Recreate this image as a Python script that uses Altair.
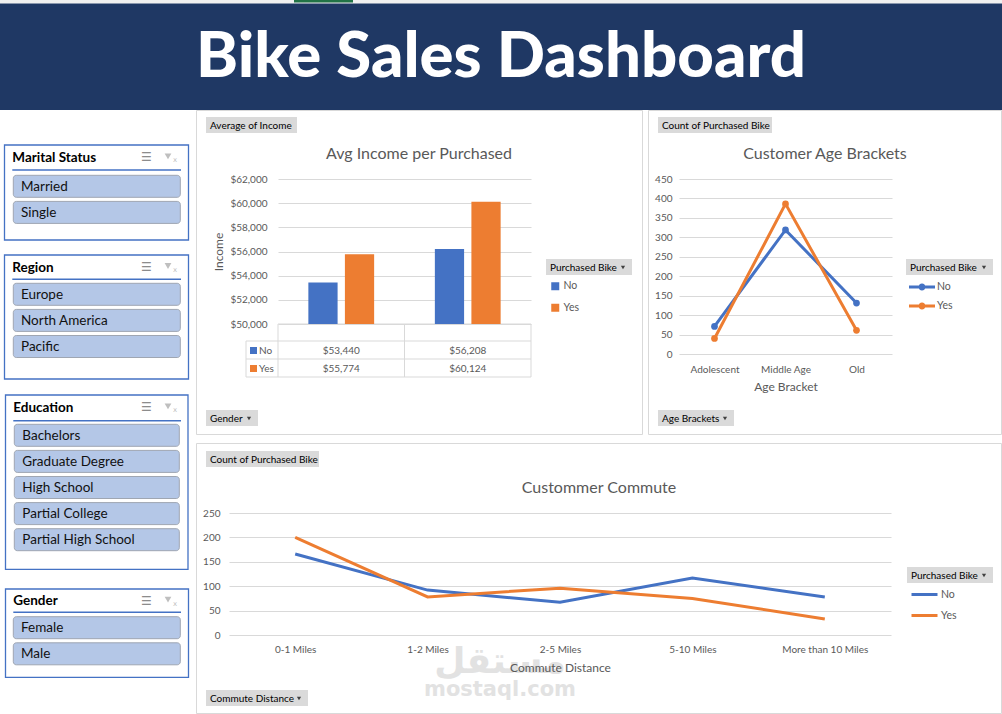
import altair as alt
import pandas as pd

# ---------------- data ----------------
purchased = ["No", "Yes"]
palette = ["#4472C4", "#ED7D31"]

genders = ["Female", "Male"]
income_no = [53440, 56208]
income_yes = [55774, 60124]

age_brackets = ["Adolescent", "Middle Age", "Old"]
age_no = [71, 319, 131]
age_yes = [40, 386, 61]

commute_bins = ["0-1 Miles", "1-2 Miles", "2-5 Miles", "5-10 Miles", "More than 10 Miles"]
commute_no = [166, 92, 67, 117, 78]
commute_yes = [200, 78, 96, 75, 33]

slicer_titles = ["Marital Status", "Region", "Education", "Gender"]
slicer_items = [
    ["Married", "Single"],
    ["Europe", "North America", "Pacific"],
    ["Bachelors", "Graduate Degree", "High School", "Partial College", "Partial High School"],
    ["Female", "Male"],
]


def long_table(cats, no, yes, catname, valname):
    rows = []
    for c, n, y in zip(cats, no, yes):
        rows.append({catname: c, "purchased": "No", valname: n})
        rows.append({catname: c, "purchased": "Yes", valname: y})
    return pd.DataFrame(rows)


income_df = long_table(genders, income_no, income_yes, "gender", "income")
age_df = long_table(age_brackets, age_no, age_yes, "bracket", "count")
commute_df = long_table(commute_bins, commute_no, commute_yes, "distance", "count")

# ---------------- style ----------------
FONT = "Lato"
GRAY = "#595959"
GRID = "#D9D9D9"
OX, OY = 229, 179  # page position of the decoration cell origin


def cscale():
    return alt.Scale(domain=purchased, range=palette)


AX = dict(domain=False, ticks=False, labelFont=FONT, titleFont=FONT, labelColor=GRAY,
          titleColor=GRAY, titleFontWeight="normal", labelFontSize=10, titleFontSize=12)

# ---------------- bar chart ----------------
bar_legend = alt.Legend(orient="none", legendX=272, legendY=102, title=None, symbolType="square",
                        symbolSize=64, symbolStrokeWidth=0, labelFont=FONT, labelFontSize=10.5,
                        labelColor=GRAY, labelOffset=3, rowPadding=10.5, padding=0, direction="vertical")
bars = alt.Chart(income_df).mark_bar().encode(
    x=alt.X("gender:N", sort=genders, scale=alt.Scale(paddingInner=0.48, paddingOuter=0.24),
            axis=alt.Axis(title="Gender", labelAngle=0, labelPadding=3, titlePadding=43, grid=False, **AX)),
    xOffset=alt.XOffset("purchased:N", sort=purchased, scale=alt.Scale(paddingInner=0.2, paddingOuter=0)),
    y=alt.Y("income:Q", scale=alt.Scale(domain=[50000, 62000], zero=False, nice=False),
            axis=alt.Axis(title="Income", values=list(range(50000, 62001, 2000)), format="$,.0f",
                          labelPadding=11, titlePadding=4, grid=True, gridColor=GRID, **AX)),
    y2=alt.datum(50000),
    color=alt.Color("purchased:N", scale=cscale(), legend=bar_legend),
)
tbl_layers = []
for p, yy in zip(purchased, [350.5, 368.5]):
    tbl_layers.append(
        alt.Chart(income_df).transform_filter(alt.datum.purchased == p)
        .mark_text(font=FONT, fontSize=10, color=GRAY, baseline="middle")
        .encode(x=alt.X("gender:N", sort=genders, axis=None), y=alt.value(yy - 179),
                text=alt.Text("income:Q", format="$,.0f"))
    )
bar_chart = alt.layer(bars, *tbl_layers).properties(width=253, height=145)

# ---------------- age chart ----------------
DOT_LINE = ("M-1,-0.115L1,-0.115L1,0.115L-1,0.115Z "
            "M0.27,0A0.27,0.27 0 1,1 -0.27,0A0.27,0.27 0 1,1 0.27,0Z")
age_legend = alt.Legend(orient="none", legendX=230, legendY=95, title=None, symbolType=DOT_LINE,
                        symbolSize=676, symbolStrokeWidth=0, labelFont=FONT, labelFontSize=10.5,
                        labelColor=GRAY, labelOffset=2, rowPadding=-1, padding=0, direction="vertical")
age_x = alt.X("bracket:N", sort=age_brackets, scale=alt.Scale(type="point", padding=0.5),
              axis=alt.Axis(title="Age Bracket", labelAngle=0, labelPadding=10, titlePadding=7, grid=False, **AX))
age_y = alt.Y("count:Q", scale=alt.Scale(domain=[0, 450], nice=False),
              axis=alt.Axis(title=None, values=list(range(0, 451, 50)), labelPadding=7, grid=True,
                            gridColor=GRID, **AX))
age_color = alt.Color("purchased:N", scale=cscale(), legend=age_legend)
age_pts = alt.Chart(age_df).mark_point(filled=True, size=45, opacity=1).encode(x=age_x, y=age_y, color=age_color)
age_lines = alt.Chart(age_df).mark_line(strokeWidth=3).encode(x=age_x, y=age_y, color=age_color)
age_chart = alt.layer(age_pts, age_lines).properties(width=213, height=175)

# ---------------- commute chart ----------------
com_legend = alt.Legend(orient="none", legendX=681, legendY=67, title=None, symbolType="stroke",
                        symbolSize=676, symbolStrokeWidth=3, labelFont=FONT, labelFontSize=10.5,
                        labelColor=GRAY, labelOffset=2, rowPadding=-3, padding=0, direction="vertical")
com_chart = alt.Chart(commute_df).mark_line(strokeWidth=3).encode(
    x=alt.X("distance:N", sort=commute_bins, scale=alt.Scale(type="point", padding=0.5),
            axis=alt.Axis(title="Commute Distance", labelAngle=0, labelPadding=9, titlePadding=8, grid=False, **AX)),
    y=alt.Y("count:Q", scale=alt.Scale(domain=[0, 250], nice=False),
            axis=alt.Axis(title=None, values=list(range(0, 251, 50)), labelPadding=9, grid=True,
                          gridColor=GRID, **AX)),
    color=alt.Color("purchased:N", scale=cscale(), legend=com_legend),
).properties(width=662, height=122)


# ---------------- decorations (dashboard frame) ----------------
def deco_rects(rows, radius=0):
    df = pd.DataFrame(rows, columns=["x", "x2", "y", "y2", "fill", "stroke", "sw"])
    df["x"] -= OX; df["x2"] -= OX; df["y"] -= OY; df["y2"] -= OY
    mk = alt.Chart(df).mark_rect(cornerRadius=radius) if radius else alt.Chart(df).mark_rect()
    return mk.encode(
        x=alt.X("x:Q", scale=None, axis=None), x2="x2:Q",
        y=alt.Y("y:Q", scale=None, axis=None), y2="y2:Q",
        fill=alt.Fill("fill:N", scale=None), stroke=alt.Stroke("stroke:N", scale=None),
        strokeWidth=alt.StrokeWidth("sw:Q", scale=None),
    )


def deco_rules(rows):
    df = pd.DataFrame(rows, columns=["x", "x2", "y", "y2", "color", "sw"])
    df["x"] -= OX; df["x2"] -= OX; df["y"] -= OY; df["y2"] -= OY
    return alt.Chart(df).mark_rule().encode(
        x=alt.X("x:Q", scale=None, axis=None), x2="x2:Q",
        y=alt.Y("y:Q", scale=None, axis=None), y2="y2:Q",
        color=alt.Color("color:N", scale=None), strokeWidth=alt.StrokeWidth("sw:Q", scale=None),
    )


def deco_text(rows, align="left", weight="normal", font=FONT, baseline="middle", opacity=1.0):
    df = pd.DataFrame(rows, columns=["x", "y", "text", "size", "color"])
    df["x"] -= OX; df["y"] -= OY
    return alt.Chart(df).mark_text(align=align, baseline=baseline, fontWeight=weight, font=font,
                                   opacity=opacity).encode(
        x=alt.X("x:Q", scale=None, axis=None), y=alt.Y("y:Q", scale=None, axis=None),
        text="text:N", size=alt.Size("size:Q", scale=None), color=alt.Color("color:N", scale=None),
    )


def deco_points(rows, shape, size, color):
    df = pd.DataFrame(rows, columns=["x", "y"])
    df["x"] -= OX; df["y"] -= OY
    return alt.Chart(df).mark_point(shape=shape, filled=True, size=size, color=color, opacity=1).encode(
        x=alt.X("x:Q", scale=None, axis=None), y=alt.Y("y:Q", scale=None, axis=None))


BLUE_LINE = "#4472C4"
BTN = "#DADADA"

square_rects = [
    (0, 1002, 0, 3.5, "#F0F0F0", "#F0F0F0", 0),
    (294, 353, 0, 2.5, "#217346", "#217346", 0),
    (0, 1002, 3.5, 110, "#1F3864", "#1F3864", 0),
    (196.5, 642.5, 110.5, 434.5, "white", GRID, 1),
    (648.5, 1001.5, 110.5, 434.5, "white", GRID, 1),
    (196.5, 1001.5, 443.5, 713.5, "white", GRID, 1),
]
buttons = [
    (206, 297, 117, 133, "Average of Income", False),
    (206, 258, 410, 426, "Gender", True),
    (546, 632, 259, 275, "Purchased Bike", True),
    (658, 772, 117, 133, "Count of Purchased Bike", False),
    (658, 734, 410, 426, "Age Brackets", True),
    (906, 993, 259, 275, "Purchased Bike", True),
    (206, 319, 451, 467, "Count of Purchased Bike", False),
    (206, 308, 690, 706, "Commute Distance", True),
    (907, 993, 567, 583, "Purchased Bike", True),
]
for b in buttons:
    square_rects.append((b[0], b[1], b[2], b[3], BTN, BTN, 0))
square_rects += [
    (250, 257, 347, 354, palette[0], palette[0], 0),
    (250, 257, 365, 372, palette[1], palette[1], 0),
]

slicer_geo = [
    dict(bx=(4.5, 188.5), by=(145, 240), tx=12.3, ty=157.3, ly=170, ix=(13.3, 180.3), iy0=175.3, itx=21),
    dict(bx=(4.5, 188.5), by=(255, 379), tx=12.3, ty=267, ly=279.3, ix=(13.3, 180.3), iy0=283.3, itx=21),
    dict(bx=(5.5, 188), by=(395, 569.3), tx=13.3, ty=407.3, ly=420.7, ix=(14.3, 179.3), iy0=424.3, itx=22.3),
    dict(bx=(5.5, 188.5), by=(589, 677.3), tx=13.3, ty=600.7, ly=612.3, ix=(13.3, 180.3), iy0=616.7, itx=21),
]
ITEM_STEP, ITEM_H = 26.1, 22

round_rects, rules, left_texts, bold_texts, icon_texts, funnels, xs = [], [], [], [], [], [], []
for g, title, items in zip(slicer_geo, slicer_titles, slicer_items):
    square_rects.append((g["bx"][0], g["bx"][1], g["by"][0], g["by"][1], "white", BLUE_LINE, 1.3))
    rules.append((g["tx"], 181, g["ly"], g["ly"], BLUE_LINE, 1.5))
    bold_texts.append((g["tx"], g["ty"] + 0.5, title, 13.5, "#000000"))
    icon_texts.append((141, g["ty"], "☰", 12, "#8C8C8C"))
    funnels.append((168, g["ty"] - 1))
    xs.append((173, g["ty"] + 3, "x", 7, "#BFBFBF"))
    for k, it in enumerate(items):
        y1 = g["iy0"] + k * ITEM_STEP
        round_rects.append((g["ix"][0], g["ix"][1], y1, y1 + ITEM_H, "#B4C7E7", "#9FA6B2", 1))
        left_texts.append((g["itx"], y1 + ITEM_H / 2 + 0.5, it, 13.5, "#111111"))

arrows = []
for b in buttons:
    left_texts.append((b[0] + 4, (b[2] + b[3]) / 2 + 0.5, b[4], 10, "#000000"))
    if b[5]:
        arrows.append((b[1] - 9, (b[2] + b[3]) / 2 + 0.5))
left_texts += [(259, 350.5, "No", 10, GRAY), (259, 368.5, "Yes", 10, GRAY)]

rules += [
    (246, 531, 341, 341, GRID, 1), (246, 531, 359, 359, GRID, 1), (246, 531, 377, 377, GRID, 1),
    (278, 531, 324, 324, GRID, 1),
    (246, 246, 341, 377, GRID, 1), (278, 278, 324, 377, GRID, 1),
    (404.5, 404.5, 324, 377, GRID, 1), (531, 531, 324, 377, GRID, 1),
]

center_texts = [
    (419, 153.5, "Avg Income per Purchased", 16, GRAY),
    (825, 153.5, "Customer Age Brackets", 16, GRAY),
    (599, 488, "Custommer Commute", 16, GRAY),
]

deco = alt.layer(
    deco_rects(square_rects),
    deco_text([(500, 662, "مستقل", 36, "#E2E2E2"), (500, 690, "mostaql.com", 21, "#E2E2E2")],
              align="center", weight="bold", font="DejaVu Sans"),
    deco_rects(round_rects, radius=3),
    deco_rules(rules),
    deco_text(left_texts),
    deco_text(bold_texts, weight="bold"),
    deco_text(icon_texts, font="DejaVu Sans"),
    deco_text(xs, font="DejaVu Sans"),
    deco_points(funnels, "triangle-down", 45, "#BFBFBF"),
    deco_points(arrows, "triangle-down", 18, "#404040"),
    deco_text(center_texts, align="center"),
    deco_text([(501, 77, "Bike Sales Dashboard", 63.5, "white")], align="center", weight=900,
              baseline="alphabetic"),
).properties(width=49, height=175)

# ---------------- layout ----------------
inner = alt.hconcat(bar_chart, age_chart, spacing=148, bounds="flush") \
    .resolve_scale(color="independent").resolve_legend(color="independent")
row1 = alt.hconcat(deco, inner, spacing=0, bounds="flush") \
    .resolve_scale(color="independent").resolve_legend(color="independent")
chart = alt.vconcat(row1, com_chart, spacing=334, bounds="flush") \
    .resolve_scale(color="independent").resolve_legend(color="independent") \
    .properties(padding=0, background="white") \
    .configure_view(strokeWidth=0)

chart.save("out.html", embed_options={"renderer": "svg", "actions": False})
